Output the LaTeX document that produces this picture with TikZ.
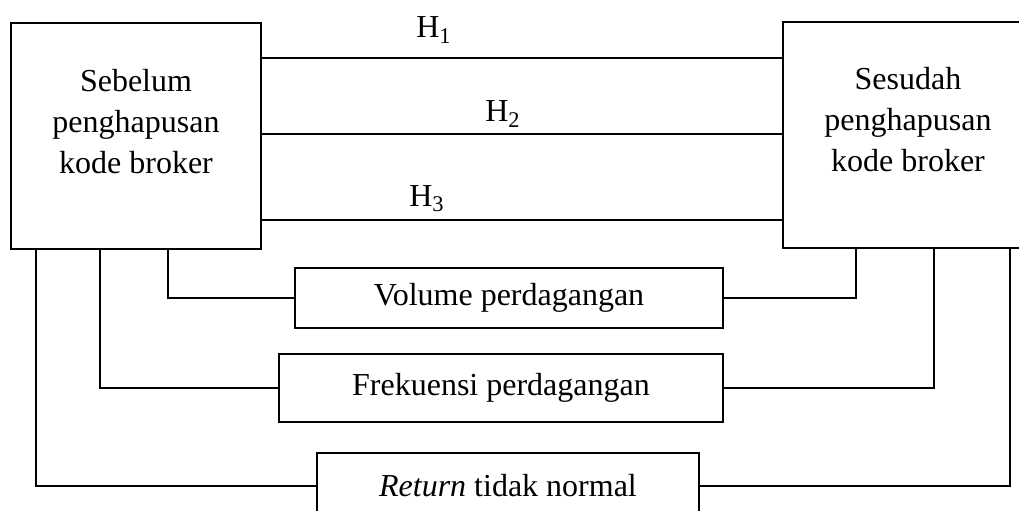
\documentclass[tikz,border=0pt]{standalone}
\usepackage{fontspec}
\setmainfont{Liberation Serif}
\usepackage{tikz}

\tikzset{
   bigbox/.style={draw, line width=1.1pt, minimum width=125pt, minimum height=113pt, inner sep=0pt},
   boxtext/.style={align=center, inner sep=0pt, font=\fontsize{16}{20.5}\selectfont},
   varbox/.style={draw, line width=1.1pt, inner sep=0pt, font=\fontsize{16}{19}\selectfont},
   hlabel/.style={inner sep=0pt, font=\fontsize{16}{19}\selectfont},
   link/.style={line width=1.1pt}
}

\begin{document}
\begin{tikzpicture}[x=0.5pt, y=-0.5pt]
   \useasboundingbox (0,0) rectangle (1019,510);
   \clip (0,0) rectangle (1019,510);

   \node[bigbox](sebelum) at (136,136) {};
   \node[bigbox](sesudah) at (908,135) {};
   \node[boxtext](sebelumtext) at (136,122) {Sebelum\\penghapusan\\kode broker};
   \node[boxtext](sesudahtext) at (908,120) {Sesudah\\penghapusan\\kode broker};

   \node[varbox, minimum width=214pt, minimum height=30pt](volume) at (509,298) {Volume perdagangan};
   \node[varbox, minimum width=222pt, minimum height=34pt](frekuensi) at (501,388) {Frekuensi perdagangan};
   \node[varbox, minimum width=191pt, minimum height=33pt](return) at (508,486) {\textit{Return} tidak normal};

   \node[hlabel](hone) at (434,30) {H\textsubscript{1}};
   \node[hlabel](htwo) at (503,114) {H\textsubscript{2}};
   \node[hlabel](hthree) at (427,199) {H\textsubscript{3}};

   \coordinate (yone) at (0,58);
   \coordinate (ytwo) at (0,134);
   \coordinate (ythree) at (0,220);

   \draw[link](sebelum.east |- yone) to (sesudah.west |- yone);
   \draw[link](sebelum.east |- ytwo) to (sesudah.west |- ytwo);
   \draw[link](sebelum.east |- ythree) to (sesudah.west |- ythree);

   \draw[link](sebelum.south west) ++(158,0) |- (volume.west);
   \draw[link](sebelum.south west) ++(90,0) |- (frekuensi.west);
   \draw[link](sebelum.south west) ++(26,0) |- (return.west);
   \draw[link](sesudah.south west) ++(74,0) |- (volume.east);
   \draw[link](sesudah.south west) ++(152,0) |- (frekuensi.east);
   \draw[link](sesudah.south west) ++(228,0) |- (return.east);

\end{tikzpicture}
\end{document}
